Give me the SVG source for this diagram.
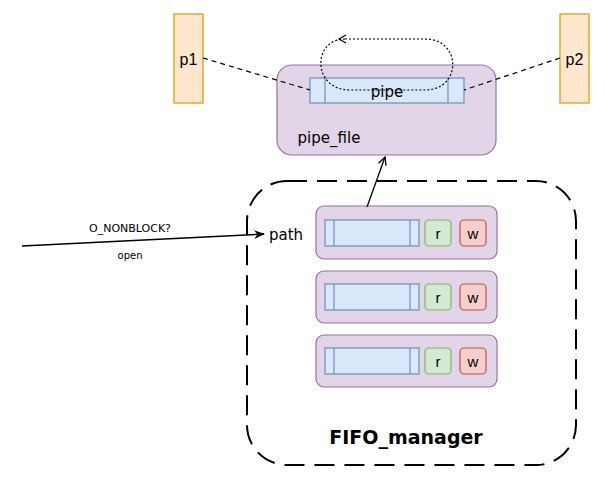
<svg xmlns="http://www.w3.org/2000/svg" width="604" height="480" viewBox="0 0 604 480">
<defs>
<style>
.proc{fill:#ffe6cc;stroke:#d79b00;stroke-width:1.2}
.box{fill:#e1d5e7;stroke:#9673a6;stroke-width:1.2}
.bar{fill:#dae8fc;stroke:#6c8ebf;stroke-width:1.2}
.r{fill:#d5e8d4;stroke:#82b366;stroke-width:1.2}
.w{fill:#f8cecc;stroke:#b85450;stroke-width:1.2}
.t{font-family:"Liberation Sans",Arial,sans-serif;fill:#000;text-anchor:middle}
.c{font-family:"DejaVu Sans","Liberation Sans",sans-serif;fill:#000;text-anchor:middle}
</style>
<marker id="open" viewBox="0 0 10 10" refX="9" refY="5" markerWidth="10" markerHeight="10" orient="auto" markerUnits="userSpaceOnUse">
<path d="M1,1 L9,5 L1,9" fill="none" stroke="#000" stroke-width="1.3"/>
</marker>
<marker id="fill" viewBox="0 0 10 10" refX="9" refY="5" markerWidth="11" markerHeight="11" orient="auto" markerUnits="userSpaceOnUse">
<path d="M0,1 L10,5 L0,9 L3,5 Z" fill="#000"/>
</marker>
</defs>

<g id="fifo_manager">
<rect x="247" y="181" width="329" height="284" rx="40" fill="none" stroke="#000" stroke-width="2" stroke-dasharray="20 10"/>
<text class="c" x="406" y="444" font-size="19" font-weight="bold">FIFO_manager</text>
</g>

<g id="p1">
<rect class="proc" x="174" y="14" width="29" height="89"/>
<text class="t" x="188.5" y="65" font-size="16">p1</text>
</g>
<g id="p2">
<rect class="proc" x="560" y="14" width="29" height="89"/>
<text class="t" x="574.5" y="65" font-size="16">p2</text>
</g>

<g id="pipe_file">
<rect class="box" x="277" y="65" width="219" height="90" rx="15"/>
<text class="c" x="329" y="143" font-size="15">pipe_file</text>
</g>
<g id="pipe">
<rect class="bar" x="310" y="78" width="154" height="25"/>
<line x1="325" y1="78" x2="325" y2="103" stroke="#6c8ebf" stroke-width="1.2"/>
<line x1="448" y1="78" x2="448" y2="103" stroke="#6c8ebf" stroke-width="1.2"/>
<text class="c" x="387" y="97" font-size="15">pipe</text>
</g>

<g id="row1">
<rect class="box" x="316" y="206" width="181" height="53" rx="8"/>
<rect class="bar" x="325" y="220" width="94" height="26"/>
<line x1="334" y1="220" x2="334" y2="246" stroke="#6c8ebf" stroke-width="1.2"/>
<line x1="410" y1="220" x2="410" y2="246" stroke="#6c8ebf" stroke-width="1.2"/>
<rect class="r" x="425" y="220" width="26" height="26" rx="4"/>
<text class="t" x="438" y="239" font-size="15">r</text>
<rect class="w" x="460" y="220" width="26" height="26" rx="4"/>
<text class="t" x="473" y="239" font-size="15">w</text>
</g>
<g id="row2">
<rect class="box" x="316" y="271" width="181" height="52" rx="8"/>
<rect class="bar" x="325" y="284" width="94" height="26"/>
<line x1="334" y1="284" x2="334" y2="310" stroke="#6c8ebf" stroke-width="1.2"/>
<line x1="410" y1="284" x2="410" y2="310" stroke="#6c8ebf" stroke-width="1.2"/>
<rect class="r" x="425" y="284" width="26" height="26" rx="4"/>
<text class="t" x="438" y="303" font-size="15">r</text>
<rect class="w" x="460" y="284" width="26" height="26" rx="4"/>
<text class="t" x="473" y="303" font-size="15">w</text>
</g>
<g id="row3">
<rect class="box" x="316" y="335" width="181" height="52" rx="8"/>
<rect class="bar" x="325" y="348" width="94" height="26"/>
<line x1="334" y1="348" x2="334" y2="374" stroke="#6c8ebf" stroke-width="1.2"/>
<line x1="410" y1="348" x2="410" y2="374" stroke="#6c8ebf" stroke-width="1.2"/>
<rect class="r" x="425" y="348" width="26" height="26" rx="4"/>
<text class="t" x="438" y="367" font-size="15">r</text>
<rect class="w" x="460" y="348" width="26" height="26" rx="4"/>
<text class="t" x="473" y="367" font-size="15">w</text>
</g>

<g id="path_label">
<text class="c" x="286" y="240" font-size="15">path</text>
</g>

<g id="connectors" fill="none" stroke="#000">
<path d="M203,58 L310,90" stroke-width="1.2" stroke-dasharray="5 4"/>
<path d="M560,58 L464,90" stroke-width="1.2" stroke-dasharray="5 4"/>
<path d="M345,39 L425,39 C462,39 462,90 425,90 L350,90 C312,90 312,39 345,39" stroke-width="1.2" stroke-dasharray="2 2"/>
<path d="M346,35 L339,39 L346,43" stroke-width="1.2"/>
<path d="M367,207 L385,157" stroke-width="1.3" marker-end="url(#open)"/>
<path d="M22,246 L264,234" stroke-width="1.5" marker-end="url(#fill)"/>
<text class="c" x="130" y="232" font-size="11" stroke="none" fill="#000">O_NONBLOCK?</text>
<text class="c" x="130" y="259" font-size="10" stroke="none" fill="#000">open</text>
</g>
</svg>
